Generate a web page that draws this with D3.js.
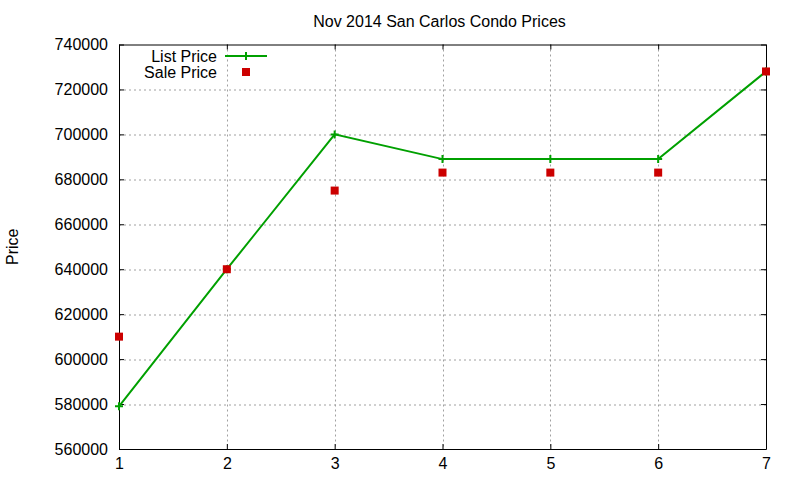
<!DOCTYPE html>
<html>
<head>
<meta charset="utf-8">
<script src="https://cdn.jsdelivr.net/npm/d3@7"></script>
<style>
  body { margin: 0; background: #fff; }
  text { font-family: "Liberation Sans", Arial, sans-serif; }
</style>
</head>
<body>
<div id="wrapper"></div>
<script>
const months = [1, 2, 3, 4, 5, 6, 7];
const listPrice = [579000, 640000, 700000, 689000, 689000, 689000, 728000];
const salePrice = [610000, 640000, 675000, 683000, 683000, 683000, 728000];
const yTicks = [560000, 580000, 600000, 620000, 640000, 660000, 680000, 700000, 720000, 740000];
const xTicks = [1, 2, 3, 4, 5, 6, 7];

function drawChart() {
  const dimensions = {
    width: 800,
    height: 480,
    margin: { top: 44.5, right: 34, bottom: 31, left: 119 },
  };
  dimensions.boundedWidth = dimensions.width - dimensions.margin.left - dimensions.margin.right;
  dimensions.boundedHeight = dimensions.height - dimensions.margin.top - dimensions.margin.bottom;

  const wrapper = d3.select("#wrapper")
    .append("svg")
    .attr("width", dimensions.width)
    .attr("height", dimensions.height);

  const bounds = wrapper.append("g")
    .attr("transform", `translate(${dimensions.margin.left}, ${dimensions.margin.top})`);

  const xScale = d3.scaleLinear()
    .domain([1, 7])
    .range([0, dimensions.boundedWidth]);

  const yScale = d3.scaleLinear()
    .domain([560000, 740000])
    .range([dimensions.boundedHeight, 0]);

  // grid
  bounds.append("g")
    .selectAll("line")
    .data(yTicks.slice(1, -1))
    .join("line")
    .attr("x1", 0)
    .attr("x2", dimensions.boundedWidth)
    .attr("y1", d => Math.round(yScale(d)) + 0.5)
    .attr("y2", d => Math.round(yScale(d)) + 0.5)
    .attr("stroke", "#a0a0a0")
    .attr("stroke-dasharray", "2,3");

  bounds.append("g")
    .selectAll("line")
    .data(xTicks.slice(1, -1))
    .join("line")
    .attr("x1", d => Math.round(xScale(d)) + 0.5)
    .attr("x2", d => Math.round(xScale(d)) + 0.5)
    .attr("y1", 0)
    .attr("y2", dimensions.boundedHeight)
    .attr("stroke", "#a0a0a0")
    .attr("stroke-dasharray", "2,3");

  // axes (ticks pointing inward, mirrored)
  const yAxisGenerator = d3.axisLeft(yScale)
    .tickValues(yTicks)
    .tickFormat(d3.format("d"))
    .tickSizeInner(-5)
    .tickSizeOuter(0)
    .tickPadding(11);
  const yAxis = bounds.append("g").call(yAxisGenerator);

  const yAxisRight = bounds.append("g")
    .attr("transform", `translate(${dimensions.boundedWidth}, 0)`)
    .call(d3.axisRight(yScale).tickValues(yTicks).tickSizeInner(-5).tickSizeOuter(0).tickFormat(""));

  const xAxisGenerator = d3.axisBottom(xScale)
    .tickValues(xTicks)
    .tickFormat(d3.format("d"))
    .tickSizeInner(-5)
    .tickSizeOuter(0)
    .tickPadding(9);
  const xAxis = bounds.append("g")
    .attr("transform", `translate(0, ${dimensions.boundedHeight})`)
    .call(xAxisGenerator);

  const xAxisTop = bounds.append("g")
    .call(d3.axisTop(xScale).tickValues(xTicks).tickSizeInner(-5).tickSizeOuter(0).tickFormat(""));

  [yAxis, yAxisRight, xAxis, xAxisTop].forEach(ax => {
    ax.selectAll(".domain").attr("stroke", "#000");
    ax.selectAll(".tick line").attr("stroke", "#000");
    ax.selectAll("text")
      .attr("fill", "#000")
      .style("font-family", "'Liberation Sans', Arial, sans-serif")
      .style("font-size", "16px");
  });

  // list price line
  const listData = months.map((m, i) => ({ x: m, y: listPrice[i] }));
  const saleData = months.map((m, i) => ({ x: m, y: salePrice[i] }));

  const lineGenerator = d3.line()
    .x(d => xScale(d.x))
    .y(d => yScale(d.y));

  bounds.append("path")
    .attr("d", lineGenerator(listData))
    .attr("fill", "none")
    .attr("stroke", "#00a000")
    .attr("stroke-width", 2);

  const cross = d3.symbol().type(d3.symbolCross);
  const plusPath = s => `M${-s},0H${s}M0,${-s}V${s}`;

  bounds.append("g")
    .selectAll("path")
    .data(listData)
    .join("path")
    .attr("d", plusPath(4))
    .attr("transform", d => `translate(${xScale(d.x)}, ${yScale(d.y)})`)
    .attr("stroke", "#00a000")
    .attr("stroke-width", 2)
    .attr("fill", "none");

  // sale price squares
  bounds.append("g")
    .selectAll("rect")
    .data(saleData)
    .join("rect")
    .attr("x", d => xScale(d.x) - 4)
    .attr("y", d => yScale(d.y) - 4)
    .attr("width", 8)
    .attr("height", 8)
    .attr("fill", "#cc0000");

  // title
  wrapper.append("text")
    .attr("x", dimensions.margin.left + dimensions.boundedWidth / 2 - 3)
    .attr("y", 27)
    .attr("text-anchor", "middle")
    .style("font-size", "16px")
    .text("Nov 2014 San Carlos Condo Prices");

  // y label
  wrapper.append("text")
    .attr("transform", `translate(18, ${dimensions.margin.top + dimensions.boundedHeight / 2}) rotate(-90)`)
    .attr("text-anchor", "middle")
    .style("font-size", "16px")
    .text("Price");

  // legend
  const legend = wrapper.append("g");
  legend.append("text")
    .attr("x", 217)
    .attr("y", 56)
    .attr("dy", "0.35em")
    .attr("text-anchor", "end")
    .style("font-size", "16px")
    .text("List Price");
  legend.append("line")
    .attr("x1", 225).attr("x2", 267)
    .attr("y1", 56).attr("y2", 56)
    .attr("stroke", "#00a000")
    .attr("stroke-width", 2);
  legend.append("path")
    .attr("d", plusPath(4))
    .attr("transform", "translate(246, 56)")
    .attr("stroke", "#00a000")
    .attr("stroke-width", 2);

  legend.append("text")
    .attr("x", 217)
    .attr("y", 72)
    .attr("dy", "0.35em")
    .attr("text-anchor", "end")
    .style("font-size", "16px")
    .text("Sale Price");
  legend.append("rect")
    .attr("x", 242).attr("y", 68)
    .attr("width", 8).attr("height", 8)
    .attr("fill", "#cc0000");
}

drawChart();
</script>
</body>
</html>
